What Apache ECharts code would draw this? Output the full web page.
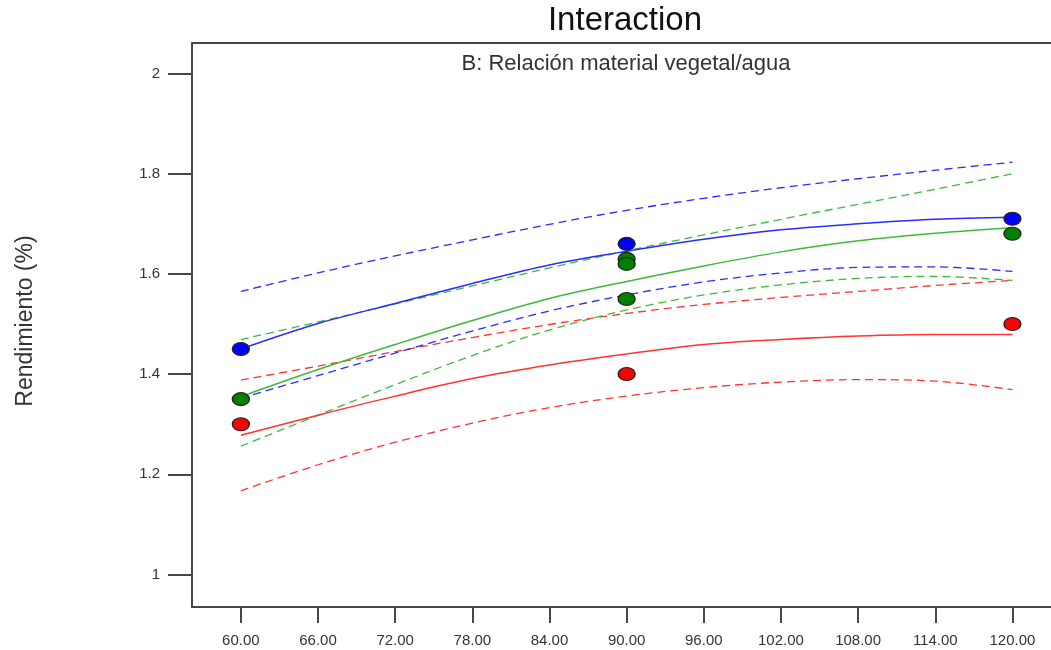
<!DOCTYPE html>
<html>
<head>
<meta charset="utf-8">
<script src="https://cdn.jsdelivr.net/npm/echarts@6/dist/echarts.min.js"></script>
<style>
html,body{margin:0;padding:0;background:#fff;}
#c{width:1051px;height:650px;}
</style>
</head>
<body>
<div id="c"></div>
<script>
// X positions (A factor) where the curves were read
var xs = [60, 66, 72, 78, 84, 90, 96, 102, 108, 114, 120];
var xTicks = [60, 66, 72, 78, 84, 90, 96, 102, 108, 114, 120];
var yTicks = [1, 1.2, 1.4, 1.6, 1.8, 2];

// Blue level
var blueFit   = [1.450, 1.501, 1.541, 1.581, 1.618, 1.645, 1.669, 1.688, 1.700, 1.709, 1.713];
var blueUpper = [1.565, 1.602, 1.636, 1.668, 1.699, 1.727, 1.751, 1.772, 1.790, 1.807, 1.823];
var blueLower = [1.352, 1.397, 1.442, 1.486, 1.526, 1.558, 1.584, 1.602, 1.613, 1.614, 1.605];
// Green level
var greenFit   = [1.355, 1.409, 1.459, 1.507, 1.551, 1.585, 1.616, 1.644, 1.666, 1.681, 1.692];
var greenUpper = [1.469, 1.504, 1.540, 1.576, 1.612, 1.646, 1.678, 1.709, 1.739, 1.769, 1.800];
var greenLower = [1.256, 1.318, 1.379, 1.437, 1.488, 1.528, 1.558, 1.578, 1.591, 1.595, 1.587];
// Red level
var redFit   = [1.278, 1.318, 1.356, 1.391, 1.418, 1.440, 1.459, 1.469, 1.476, 1.479, 1.479];
var redUpper = [1.388, 1.416, 1.445, 1.473, 1.499, 1.521, 1.539, 1.553, 1.565, 1.577, 1.587];
var redLower = [1.167, 1.219, 1.264, 1.302, 1.333, 1.356, 1.373, 1.384, 1.389, 1.386, 1.369];

// Observed design points
var blueObsX = [60, 90, 120];
var blueObsY = [1.45, 1.66, 1.71];
var greenObsX = [60, 90, 90, 90, 120];
var greenObsY = [1.35, 1.63, 1.62, 1.55, 1.68];
var redObsX = [60, 90, 120];
var redObsY = [1.30, 1.40, 1.50];

function pairs(x, y) { return x.map(function (v, i) { return [v, y[i]]; }); }

var C_BLUE = '#2b2bff', C_GREEN = '#3cba3c', C_RED = '#ff3333';

function lineSeries(y, color, dashed) {
  return {
    type: 'line', data: pairs(xs, y), showSymbol: false, smooth: 0.35,
    silent: true, z: 2,
    lineStyle: { color: color, width: dashed ? 1.3 : 1.5, type: dashed ? [8, 5] : 'solid' }
  };
}
function dotSeries(x, y, color) {
  return {
    type: 'scatter', data: pairs(x, y), symbol: 'circle', symbolSize: [17, 13], z: 5,
    itemStyle: { color: color, borderColor: '#222', borderWidth: 1.2, opacity: 1 }
  };
}

var axisColor = '#474747';
var chart = echarts.init(document.getElementById('c'), null, { renderer: 'canvas' });
chart.setOption({
  backgroundColor: '#ffffff',
  animation: false,
  grid: { left: 192, right: 0, top: 43, bottom: 43, containLabel: false },
  graphic: [
    { type: 'text', x: 625, y: 21, style: { text: 'Interaction', font: '33px "Liberation Sans", Arial, sans-serif', fill: '#111', textAlign: 'center', textVerticalAlign: 'middle' } },
    { type: 'text', x: 626, y: 64, style: { text: 'B: Relación material vegetal/agua', font: '22px "Liberation Sans", Arial, sans-serif', fill: '#333', textAlign: 'center', textVerticalAlign: 'middle' } },
    { type: 'text', x: 26, y: 321, rotation: Math.PI / 2, style: { text: 'Rendimiento (%)', font: '23px "Liberation Sans", Arial, sans-serif', fill: '#333', textAlign: 'center', textVerticalAlign: 'middle' } }
  ],
  xAxis: [{
    type: 'value', position: 'bottom', min: 56.2, max: 123.0,
    axisLine: { show: true, onZero: false, lineStyle: { color: axisColor, width: 2 } },
    axisTick: { show: true, inside: false, length: 16, customValues: xTicks, lineStyle: { color: axisColor, width: 2 } },
    axisLabel: { show: true, customValues: xTicks, margin: 26, color: '#333', fontSize: 15, fontFamily: '"Liberation Sans", Arial, sans-serif', formatter: function (v) { return v.toFixed(2); } },
    splitLine: { show: false }
  }, {
    type: 'value', position: 'top', min: 56.2, max: 123.0,
    axisLine: { show: true, onZero: false, lineStyle: { color: axisColor, width: 2 } },
    axisTick: { show: false }, axisLabel: { show: false }, splitLine: { show: false }
  }],
  yAxis: {
    type: 'value', min: 0.935, max: 2.061,
    axisLine: { show: true, onZero: false, lineStyle: { color: axisColor, width: 2 } },
    axisTick: { show: true, inside: false, length: 24, customValues: yTicks, lineStyle: { color: axisColor, width: 2 } },
    axisLabel: { show: true, customValues: yTicks, margin: 32, color: '#333', fontSize: 15, fontFamily: '"Liberation Sans", Arial, sans-serif', formatter: function (v) { return String(Math.round(v * 10) / 10); } },
    splitLine: { show: false }
  },
  series: [
    lineSeries(redUpper, C_RED, true),
    lineSeries(redLower, C_RED, true),
    lineSeries(greenUpper, C_GREEN, true),
    lineSeries(greenLower, C_GREEN, true),
    lineSeries(blueUpper, C_BLUE, true),
    lineSeries(blueLower, C_BLUE, true),
    lineSeries(redFit, C_RED, false),
    lineSeries(greenFit, C_GREEN, false),
    lineSeries(blueFit, C_BLUE, false),
    dotSeries(redObsX, redObsY, '#ff0000'),
    dotSeries(greenObsX, greenObsY, '#008000'),
    dotSeries(blueObsX, blueObsY, '#0000ff')
  ]
});
</script>
</body>
</html>
